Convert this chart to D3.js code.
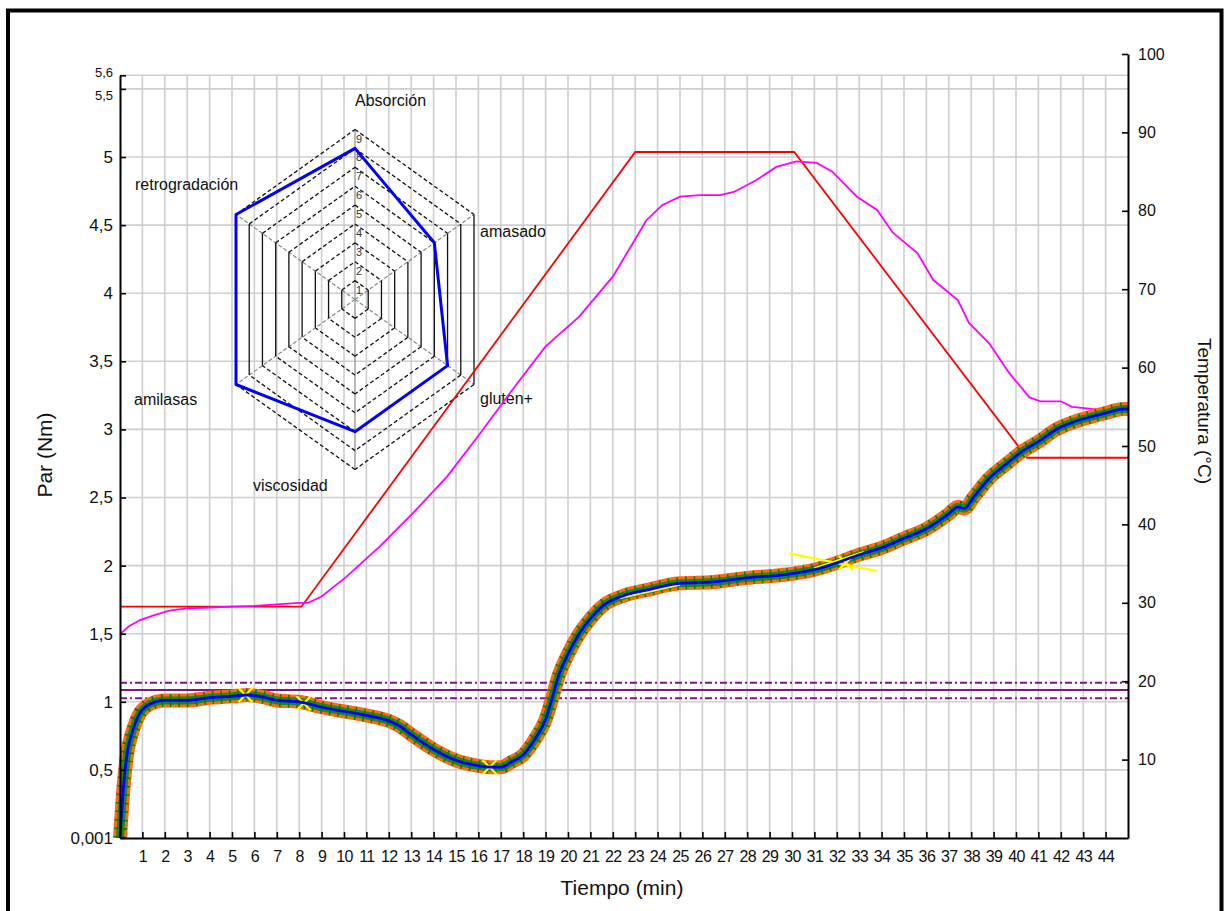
<!DOCTYPE html>
<html><head><meta charset="utf-8">
<script src="https://cdn.jsdelivr.net/npm/d3@7"></script>
<style>
html,body{margin:0;padding:0;background:#fff;}
svg{display:block;font-family:"Liberation Sans",Arial,sans-serif;}
</style></head>
<body>
<svg id="chart" width="1225" height="911"></svg>
<script>
// ---------------- data ----------------
const minuteTicks = d3.range(1, 45);
const parTicks = [0.001, 0.5, 1, 1.5, 2, 2.5, 3, 3.5, 4, 4.5, 5, 5.5, 5.6];
const tempTicks = [10, 20, 30, 40, 50, 60, 70, 80, 90, 100];

// temperature set-point (red), right axis
const setTime = [0, 8.1, 23.0, 30.1, 40.5, 45];
const setTemp = [29.5, 29.5, 87.5, 87.5, 48.5, 48.5];

// measured temperature (magenta), right axis
const tempTime = [0, 0.4, 0.9, 1.5, 2.2, 3, 4, 5, 6, 7, 8, 8.4, 9, 10.1, 11.6, 13.1, 14.6, 16.1, 17.5, 19.0, 20.5, 22.0, 22.9, 23.5, 24.2, 25.0, 25.9, 26.8, 27.4, 28.4, 29.3, 30.2, 31.1, 31.8, 32.9, 33.8, 34.5, 35.6, 36.3, 37.4, 37.9, 38.8, 39.7, 40.6, 41.1, 42.0, 42.5, 43.8, 45];
const tempVals = [26.0, 27.0, 27.8, 28.4, 29.0, 29.3, 29.4, 29.5, 29.6, 29.8, 30.0, 30.0, 30.8, 33.3, 37.2, 41.5, 46.1, 51.7, 57.1, 62.7, 66.5, 71.6, 75.9, 78.8, 80.7, 81.8, 82.0, 82.0, 82.4, 83.9, 85.6, 86.3, 86.1, 85.0, 81.8, 80.1, 77.2, 74.6, 71.2, 68.6, 65.7, 63.1, 59.3, 56.2, 55.7, 55.7, 55.0, 54.6, 54.3];

// torque (Par), left axis
const torqueTime = [0, 0.1, 0.2, 0.35, 0.5, 0.7, 0.9, 1.2, 1.6, 2.0, 3.0, 4.0, 5.0, 5.7, 6.5, 7.0, 8.0, 9.0, 10.0, 11.0, 12.0, 12.5, 13.0, 14.0, 15.0, 16.0, 16.5, 17.0, 17.5, 18.0, 18.5, 19.0, 19.3, 19.6, 20.0, 20.5, 21.0, 21.6, 22.5, 23.5, 25.0, 26.5, 28.0, 29.5, 31.0, 32.0, 33.0, 34.0, 35.0, 36.0, 37.0, 37.4, 37.7, 38.1, 38.8, 39.6, 40.2, 41.0, 41.8, 42.5, 43.3, 44.0, 44.8, 45.0];
const torqueVals = [0, 0.25, 0.45, 0.65, 0.75, 0.85, 0.92, 0.97, 1.0, 1.01, 1.01, 1.03, 1.04, 1.05, 1.03, 1.01, 1.0, 0.96, 0.93, 0.9, 0.86, 0.82, 0.76, 0.65, 0.57, 0.53, 0.52, 0.52, 0.56, 0.61, 0.72, 0.87, 1.03, 1.2, 1.35, 1.5, 1.61, 1.71, 1.78, 1.82, 1.87, 1.88, 1.91, 1.93, 1.97, 2.02, 2.08, 2.13, 2.20, 2.27, 2.38, 2.43, 2.42, 2.50, 2.64, 2.75, 2.83, 2.91, 3.0, 3.05, 3.09, 3.12, 3.15, 3.15];

// yellow markers on the torque curve
const yellowMarkTime = [5.6, 8.2, 16.5, 32.4];
const yellowMarkVal = [1.05, 0.99, 0.52, 2.02];
const yellowStreaks = [[[29.9, 2.09], [33.8, 1.96]], [[31.0, 1.98], [33.2, 2.10]], [[22.3, 1.76], [25.0, 1.86]]];

// purple reference lines (left axis)
const refLevels = [1.14, 1.087, 1.026];
const refSolid = [false, true, false];

// radar
const radarAxes = ["Absorción", "amasado", "gluten+", "viscosidad", "amilasas", "retrogradación"];
const radarVals = [8, 6, 7, 7, 9, 9];
const radarLevels = d3.range(1, 10);

// ---------------- drawing ----------------
const svg = d3.select("#chart");
svg.append("rect").attr("width", 1225).attr("height", 911).attr("fill", "#fff");

const x = d3.scaleLinear([0, 45], [120, 1128]);
const yL = d3.scaleLinear([0, 5.6], [838, 75.3]);
const yR = d3.scaleLinear([0, 100], [838, 54]);

// grid
const grid = svg.append("g").attr("stroke", "#cfcfcf").attr("stroke-width", 1.6);
grid.selectAll("line.v").data(minuteTicks).join("line")
  .attr("x1", d => x(d)).attr("x2", d => x(d)).attr("y1", yL(0)).attr("y2", yL(5.6));
grid.selectAll("line.h").data(parTicks.slice(1)).join("line")
  .attr("x1", x(0)).attr("x2", x(45)).attr("y1", d => yL(d)).attr("y2", d => yL(d));

// radar chart
const rc = {x: 355, y: 299.5};
const rr = d3.scaleLinear([0, 9], [0, 1]);
const sx = 119 / Math.sin(Math.PI / 3), sy = 170;
function rpt(i, v) {
  const a = i * Math.PI / 3;
  return [rc.x + rr(v) * Math.sin(a) * sx, rc.y - rr(v) * Math.cos(a) * sy];
}
const radar = svg.append("g");
radarAxes.forEach((a, i) => {
  const p = rpt(i, 9);
  radar.append("line").attr("x1", rc.x).attr("y1", rc.y).attr("x2", p[0]).attr("y2", p[1])
    .attr("stroke", "#8a8a8a").attr("stroke-width", 1.2).attr("stroke-dasharray", i === 0 || i === 3 ? null : "4,2");
});
radarLevels.forEach(l => {
  for (let i = 0; i < 6; i++) {
    const p1 = rpt(i, l), p2 = rpt((i + 1) % 6, l);
    const vertical = (i === 1 || i === 4);
    radar.append("line").attr("x1", p1[0]).attr("y1", p1[1]).attr("x2", p2[0]).attr("y2", p2[1])
      .attr("stroke", "#111").attr("stroke-width", 1.3)
      .attr("stroke-dasharray", vertical ? null : "4,2.5");
  }
  const pt = rpt(0, l);
  radar.append("text").attr("x", pt[0] + 4).attr("y", pt[1] + 13).attr("text-anchor", "middle")
    .attr("font-size", 11).attr("fill", "#333").text(l);
});
radar.append("path")
  .attr("d", d3.line()(radarVals.map((v, i) => rpt(i, v))) + "Z")
  .attr("fill", "none").attr("stroke", "#0000ff").attr("stroke-width", 3).attr("stroke-linejoin", "round");
const radarLabelPos = [[355, 106], [480, 237], [480, 404], [253, 491], [134, 405], [135, 190]];
radarAxes.forEach((a, i) => {
  radar.append("text").attr("x", radarLabelPos[i][0]).attr("y", radarLabelPos[i][1])
    .attr("font-size", 16).attr("fill", "#111").text(a);
});

// purple reference lines
refLevels.forEach((v, i) => {
  svg.append("line").attr("x1", x(0)).attr("x2", x(45)).attr("y1", yL(v)).attr("y2", yL(v))
    .attr("stroke", "#80158a").attr("stroke-width", 2)
    .attr("stroke-dasharray", refSolid[i] ? null : "7,3,2,3");
});

// temperature lines
const lineR = d3.line().x(d => x(d[0])).y(d => yR(d[1]));
svg.append("path").attr("d", lineR(setTime.map((t, i) => [t, setTemp[i]])))
  .attr("fill", "none").attr("stroke", "#ff0000").attr("stroke-width", 1.8);
svg.append("path").attr("d", lineR(tempTime.map((t, i) => [t, tempVals[i]])))
  .attr("fill", "none").attr("stroke", "#ff00ff").attr("stroke-width", 1.8);

// torque band
const lineL = d3.line().x(d => x(d[0])).y(d => yL(d[1])).curve(d3.curveMonotoneX);
const tq = torqueTime.map((t, i) => [t, torqueVals[i]]);
const tqPath = lineL(tq);
svg.append("path").attr("d", tqPath).attr("fill", "none").attr("stroke", "#ff6a10").attr("stroke-width", 14).attr("stroke-linejoin", "round");
svg.append("path").attr("d", tqPath).attr("fill", "none").attr("stroke", "#1a8a1a").attr("stroke-width", 8).attr("stroke-linejoin", "round");
svg.append("path").attr("d", tqPath).attr("fill", "none").attr("stroke", "#0a7a0a").attr("stroke-width", 13).attr("stroke-dasharray", "1.5,7");
const yg = svg.append("g").attr("stroke", "#ffff00").attr("stroke-width", 2.2);
yellowStreaks.forEach(s => {
  yg.append("line").attr("x1", x(s[0][0])).attr("y1", yL(s[0][1])).attr("x2", x(s[1][0])).attr("y2", yL(s[1][1]));
});
yellowMarkTime.forEach((t, i) => {
  const cx = x(t), cy = yL(yellowMarkVal[i]);
  yg.append("line").attr("x1", cx - 7).attr("y1", cy - 7).attr("x2", cx + 7).attr("y2", cy + 7);
  yg.append("line").attr("x1", cx - 7).attr("y1", cy + 7).attr("x2", cx + 7).attr("y2", cy - 7);
});
svg.append("path").attr("d", tqPath).attr("fill", "none").attr("stroke", "#0000ff").attr("stroke-width", 2.8).attr("stroke-linejoin", "round");

// axes
const fmt = d => String(d).replace(".", ",");
const axL = svg.append("g").attr("transform", `translate(${x(0)},0)`)
  .call(d3.axisLeft(yL).tickValues(parTicks).tickFormat(fmt).tickSize(-6).tickSizeOuter(0).tickPadding(7));
const axB = svg.append("g").attr("transform", `translate(0,${yL(0)})`)
  .call(d3.axisBottom(x).tickValues(minuteTicks).tickFormat(d => d).tickSize(-6).tickSizeOuter(0).tickPadding(13));
const axR = svg.append("g").attr("transform", `translate(${x(45)},0)`)
  .call(d3.axisRight(yR).tickValues(tempTicks).tickFormat(d => d).tickSize(-6).tickSizeOuter(0).tickPadding(10));
[axL, axB, axR].forEach(a => {
  a.selectAll("path.domain").attr("stroke", "#000").attr("stroke-width", 2);
  a.selectAll(".tick line").attr("stroke", "#000").attr("stroke-width", 1.6);
  a.selectAll("text").attr("fill", "#111").attr("font-family", "'Liberation Sans', Arial, sans-serif");
});
axL.selectAll("text").attr("font-size", 17);
axL.selectAll(".tick").filter(d => d > 5.55).select("text").attr("font-size", 13).attr("dy", "0.1em");
axL.selectAll(".tick").filter(d => d > 5.45 && d < 5.55).select("text").attr("font-size", 13).attr("dy", "0.85em");
axB.selectAll("text").attr("font-size", 16).attr("letter-spacing", -0.6);
axR.selectAll("text").attr("font-size", 16);

// titles
svg.append("text").attr("x", 622).attr("y", 895).attr("text-anchor", "middle").attr("font-size", 21).attr("fill", "#111").text("Tiempo (min)");
svg.append("text").attr("transform", "translate(52,455) rotate(-90)").attr("text-anchor", "middle").attr("font-size", 21).attr("fill", "#111").text("Par (Nm)");
svg.append("text").attr("transform", "translate(1198,411) rotate(90)").attr("text-anchor", "middle").attr("font-size", 19).attr("fill", "#111").text("Temperatura (°C)");

// frame
svg.append("rect").attr("x", 8).attr("y", 10.5).attr("width", 1213.5).attr("height", 930)
  .attr("fill", "none").attr("stroke", "#000").attr("stroke-width", 4);
</script>
</body></html>
